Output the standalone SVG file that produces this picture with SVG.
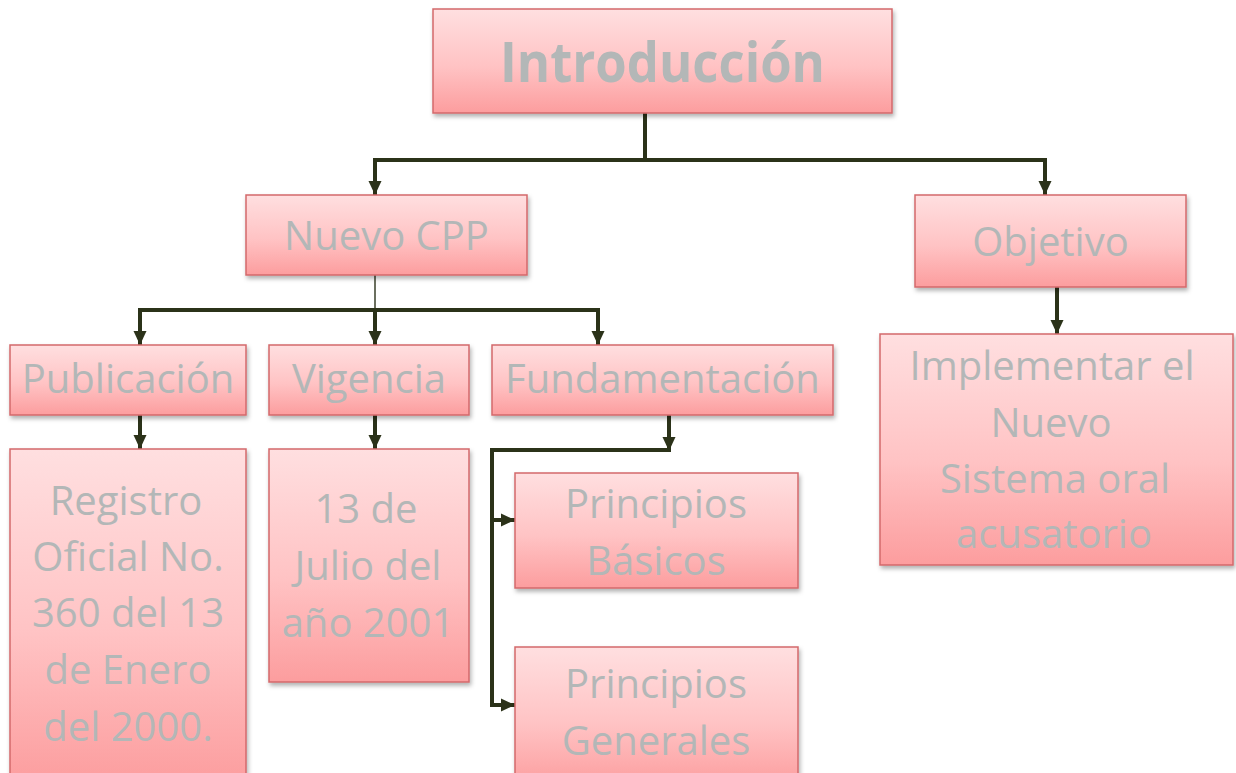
<svg xmlns="http://www.w3.org/2000/svg" width="1236" height="773" viewBox="0 0 1236 773">
<defs>
<linearGradient id="pink" x1="0" y1="0" x2="0" y2="1">
<stop offset="0" stop-color="#ffdfe0"/>
<stop offset="0.55" stop-color="#ffc3c4"/>
<stop offset="1" stop-color="#fc9d9e"/>
</linearGradient>
<filter id="sh" x="-10%" y="-10%" width="125%" height="130%">
<feDropShadow dx="1.5" dy="3" stdDeviation="2" flood-color="#000" flood-opacity="0.3"/>
</filter>
<marker id="ah" markerUnits="userSpaceOnUse" viewBox="0 0 14 14" markerWidth="14" markerHeight="14" refX="14" refY="7" orient="auto">
<path d="M0,0.5 L14,7 L0,13.5 Z" fill="#2b3219"/>
</marker>
</defs>
<style>
.box{fill:url(#pink);stroke:#d3696b;stroke-width:1.5;filter:url(#sh)}
.t{font-family:"Open Sans","Liberation Sans",sans-serif;font-size:40px;fill:#b3b7b7;text-anchor:middle}
.tb{font-weight:bold;font-size:56px}
.c{fill:none;stroke:#2b3219;stroke-width:4}
.ca{fill:none;stroke:#2b3219;stroke-width:4;marker-end:url(#ah)}
.thin{fill:none;stroke:#3a3f2a;stroke-width:1.5}
</style>
<g id="connectors">
<path class="c" d="M645,113 V160"/>
<path class="ca" d="M647,160 H375 V195"/>
<path class="ca" d="M643,160 H1045 V195"/>
<path class="thin" d="M375,275 V310"/>
<path class="ca" d="M377,310 H140 V345"/>
<path class="ca" d="M375,310 V345"/>
<path class="ca" d="M373,310 H598 V345"/>
<path class="ca" d="M140,415 V449"/>
<path class="ca" d="M375,415 V449"/>
<path class="ca" d="M669,414 V451"/>
<path class="c" d="M671,450 H492 V705"/>
<path class="ca" d="M490,520 H515"/>
<path class="ca" d="M490,705 H515"/>
<path class="ca" d="M1057,287 V334"/>
</g>
<g id="introduccion">
<rect class="box" x="433" y="9" width="459" height="104"/>
<text class="t tb" x="662.5" y="82" textLength="325" lengthAdjust="spacingAndGlyphs">Introducción</text>
</g>
<g id="nuevo-cpp">
<rect class="box" x="246" y="195" width="281" height="80"/>
<text class="t" x="386.5" y="250">Nuevo CPP</text>
</g>
<g id="objetivo">
<rect class="box" x="915" y="195" width="271" height="92"/>
<text class="t" x="1050.5" y="256">Objetivo</text>
</g>
<g id="publicacion">
<rect class="box" x="10" y="345" width="236" height="70"/>
<text class="t" x="128" y="393">Publicación</text>
</g>
<g id="vigencia">
<rect class="box" x="269" y="345" width="200" height="70"/>
<text class="t" x="369" y="393">Vigencia</text>
</g>
<g id="fundamentacion">
<rect class="box" x="492" y="345" width="341" height="70"/>
<text class="t" x="662.5" y="393">Fundamentación</text>
</g>
<g id="registro">
<rect class="box" x="10" y="449" width="236" height="335"/>
<text class="t" x="126" y="515">Registro</text>
<text class="t" x="128" y="571">Oficial No.</text>
<text class="t" x="128" y="627">360 del 13</text>
<text class="t" x="128" y="684">de Enero</text>
<text class="t" x="128" y="741">del 2000.</text>
</g>
<g id="fecha">
<rect class="box" x="269" y="449" width="200" height="233"/>
<text class="t" x="366" y="523">13 de</text>
<text class="t" x="368" y="580">Julio del</text>
<text class="t" x="368" y="637">año 2001</text>
</g>
<g id="principios-basicos">
<rect class="box" x="515" y="473" width="283" height="115"/>
<text class="t" x="656" y="518">Principios</text>
<text class="t" x="656" y="575">Básicos</text>
</g>
<g id="principios-generales">
<rect class="box" x="515" y="647" width="283" height="140"/>
<text class="t" x="656" y="698">Principios</text>
<text class="t" x="656" y="755">Generales</text>
</g>
<g id="implementar">
<rect class="box" x="880" y="334" width="353" height="231"/>
<text class="t" x="1052" y="380">Implementar el</text>
<text class="t" x="1051" y="437">Nuevo</text>
<text class="t" x="1055" y="493">Sistema oral</text>
<text class="t" x="1054" y="548">acusatorio</text>
</g>
</svg>
